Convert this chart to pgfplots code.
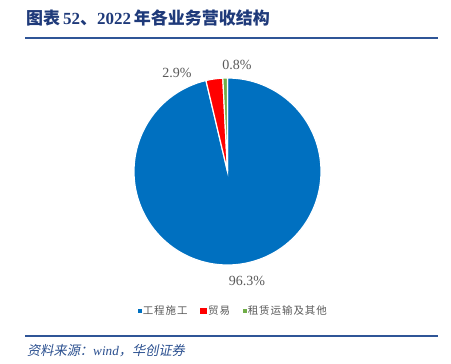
\documentclass[border=0pt]{standalone}
\usepackage{pgfplots}
\pgfplotsset{compat=1.18}
\usepackage{pgfplotstable}
\usepackage{fontspec}
\setmainfont{Liberation Serif}
\newfontfamily\cjk{Noto Sans CJK SC}
\newfontfamily\cjkleg{Noto Sans CJK SC}[LetterSpace=9]
\newfontfamily\cjksl{Noto Sans CJK SC}[FakeSlant=0.2]
\definecolor{pblue}{HTML}{0070C0}
\definecolor{pred}{HTML}{FF0000}
\definecolor{pgreen}{HTML}{70AD47}
\definecolor{lgray}{HTML}{595959}
\definecolor{titleblue}{HTML}{1F3A7A}
\definecolor{lineblue}{HTML}{2F5597}
\definecolor{srcblue}{HTML}{2A4F8F}
\pgfplotstableread{
pct
96.3
2.9
0.8
}\pietable
\begin{document}%
\pgfplotstablegetelem{0}{pct}\of\pietable\let\pA\pgfplotsretval%
\pgfplotstablegetelem{1}{pct}\of\pietable\let\pB\pgfplotsretval%
\pgfplotstablegetelem{2}{pct}\of\pietable\let\pC\pgfplotsretval%
\pgfmathsetmacro\aA{90}%
\pgfmathsetmacro\aB{90-3.6*\pA}%
\pgfmathsetmacro\aC{\aB-3.6*\pB}%
\pgfmathsetmacro\aD{\aC-3.6*\pC}%
\begin{tikzpicture}
\useasboundingbox (0,0) rectangle (451pt,364pt);
% title
\node[anchor=base west, inner sep=0pt, text=titleblue, font=\fontsize{17}{19}\selectfont\bfseries] at (26pt,339pt)
  {{\cjk\bfseries 图表}\,52{\cjk\bfseries 、}2022\,{\cjk\bfseries 年各业务营收结构}};
\draw[lineblue, line width=1.8pt] (25pt,326pt) -- (438pt,326pt);
\draw[lineblue, line width=1.8pt] (25pt,28pt) -- (438pt,28pt);
\node[anchor=base west, inner sep=0pt, text=srcblue, font=\fontsize{13.2}{15}\selectfont] at (27pt,8pt)
  {{\cjksl 资料来源：}\textit{wind}{\cjksl ，华创证券}};
\begin{axis}[
  at={(227.5pt,192.5pt)}, anchor=origin,
  x=93.5pt, y=93.5pt,
  xmin=-1.3, xmax=1.3, ymin=-1.3, ymax=1.3,
  hide axis, clip=false,
  legend columns=3,
  legend cell align=left,
  legend image code/.code={\draw[#1] plot coordinates {(0.08cm,0cm)};},
  legend style={draw=none, fill=none, at={(0.525,-0.073)}, anchor=center,
    font=\cjkleg\fontsize{10.5}{12}\selectfont\color{lgray},
    /tikz/every odd column/.append style={column sep=0pt},
    /tikz/every even column/.append style={column sep=11pt}},
]
\addplot[forget plot, fill=pblue, draw=white, line width=1.2pt, domain=\aB:\aA, samples=300, variable=\t]
  ({cos(\t)},{sin(\t)}) -- (0,0) -- cycle;
\addplot[forget plot, fill=pred, draw=white, line width=1.2pt, domain=\aC:\aB, samples=40, variable=\t]
  ({cos(\t)},{sin(\t)}) -- (0,0) -- cycle;
\addplot[forget plot, fill=pgreen, draw=white, line width=1.2pt, domain=\aD:\aC, samples=20, variable=\t]
  ({cos(\t)},{sin(\t)}) -- (0,0) -- cycle;
\addlegendimage{only marks, mark=square*, mark size=1.3pt, color=pblue}
\addlegendentry{工程施工}
\addlegendimage{only marks, mark=square*, mark size=2.8pt, color=pred}
\addlegendentry{贸易}
\addlegendimage{only marks, mark=square*, mark size=1.3pt, color=pgreen}
\addlegendentry{租赁运输及其他}
\node[font=\fontsize{14}{16}\selectfont, text=lgray] at (axis cs:0.209,-1.171) {\pA\%};
\node[font=\fontsize{14}{16}\selectfont, text=lgray] at (axis cs:-0.54,1.053) {\pB\%};
\node[font=\fontsize{14}{16}\selectfont, text=lgray] at (axis cs:0.102,1.139) {\pC\%};
\end{axis}
\end{tikzpicture}%
\end{document}
